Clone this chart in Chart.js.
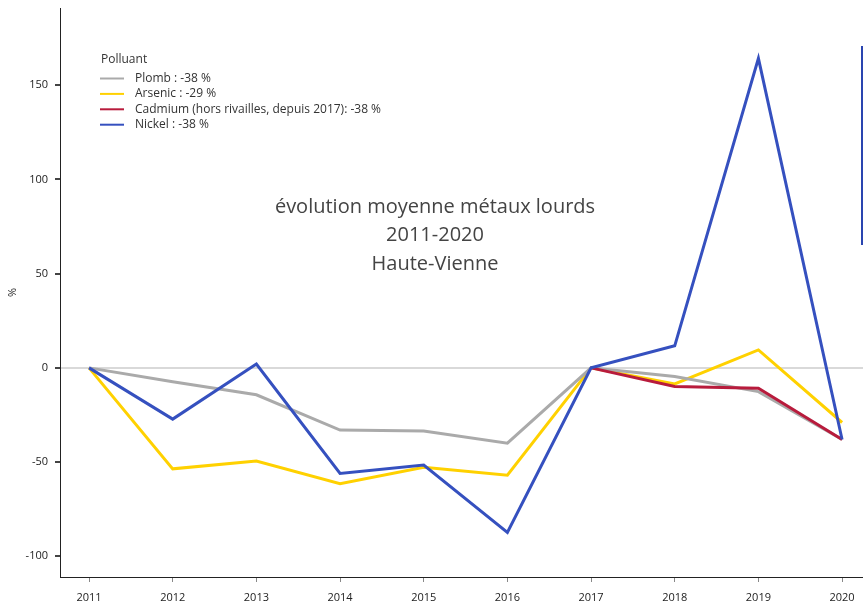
<!DOCTYPE html>
<html>
<head>
<meta charset="utf-8">
<script src="https://cdn.jsdelivr.net/npm/chart.js@4"></script>
<style>
  html, body { margin: 0; padding: 0; background: #fff; }
  #wrap { width: 863px; height: 606px; position: relative; }
</style>
</head>
<body>
<div id="wrap"><canvas id="grafico"></canvas></div>
<script>
/* donnees */
const annees = [2011, 2012, 2013, 2014, 2015, 2016, 2017, 2018, 2019, 2020];
const plomb = [0, -7.4, -14.3, -33, -33.5, -40, 0, -4.6, -12.6, -38];
const arsenic = [0, -53.6, -49.4, -61.5, -52.7, -57, 0, -8.5, 9.5, -29];
const cadmium = [null, null, null, null, null, null, 0, -9.9, -10.8, -38];
const nickel = [0, -27.2, 2, -56, -51.6, -87.4, 0, 11.7, 164.3, -38];
const yTicks = [-100, -50, 0, 50, 100, 150];
const titre = ['évolution moyenne métaux lourds', '2011-2020', 'Haute-Vienne'];
const legendeTitre = 'Polluant';

const pts = (vals) => annees.map((a, i) => ({ x: a, y: vals[i] }));

/* legende + titre dessines dans la zone du graphique */
const decor = {
    id: 'decor',
    afterDatasetsDraw(chart) {
        const ctx = chart.ctx;
        ctx.save();
        ctx.font = '12px "Open Sans"';
        ctx.fillStyle = '#333';
        ctx.textBaseline = 'middle';
        ctx.textAlign = 'left';
        ctx.fillText(legendeTitre, 101, 60);
        chart.data.datasets.forEach((ds, i) => {
            const y = 78.5 + i * 15.4;
            ctx.strokeStyle = ds.borderColor;
            ctx.lineWidth = 2;
            ctx.beginPath();
            ctx.moveTo(100, y);
            ctx.lineTo(124, y);
            ctx.stroke();
            ctx.fillStyle = '#333';
            ctx.fillText(ds.label, 135, y);
        });
        ctx.font = '20px "Open Sans"';
        ctx.fillStyle = '#444';
        ctx.textAlign = 'center';
        titre.forEach((t, i) => ctx.fillText(t, 435, 207 + i * 28.5));
        // trait bleu en bord droit
        ctx.fillStyle = '#2a45b0';
        ctx.fillRect(861, 46, 2, 199);
        ctx.restore();
    }
};

const grafico = document.getElementById('grafico').getContext('2d');

new Chart(grafico, {
    type: 'line',
    data: {
        datasets: [
            { label: 'Plomb : -38 %', data: pts(plomb), borderColor: '#aaaaaa', order: 3 },
            { label: 'Arsenic : -29 %', data: pts(arsenic), borderColor: '#ffd100', order: 4 },
            { label: 'Cadmium (hors rivailles, depuis 2017): -38 %', data: pts(cadmium), borderColor: '#b81b3c', order: 2 },
            { label: 'Nickel : -38 %', data: pts(nickel), borderColor: '#3550bf', order: 1 }
        ]
    },
    plugins: [decor],
    options: {
        responsive: true,
        maintainAspectRatio: false,
        animation: false,
        datasets: {
            line: { borderWidth: 3, pointRadius: 0, tension: 0, spanGaps: false }
        },
        layout: { padding: { top: 8, right: 0, left: 0, bottom: 0 } },
        plugins: {
            legend: { display: false },
            tooltip: { enabled: false }
        },
        scales: {
            x: {
                type: 'linear',
                min: 2010.653,
                max: 2020.25,
                border: { display: true, color: '#222', width: 1 },
                grid: { display: true, drawOnChartArea: false, tickLength: 5, tickColor: '#888' },
                afterBuildTicks: (s) => { s.ticks = annees.map(v => ({ value: v })); },
                afterFit: (s) => { s.height = 29; s.paddingLeft = 0; s.paddingRight = 0; },
                ticks: {
                    color: '#222',
                    padding: 9,
                    maxRotation: 0,
                    font: { size: 11, family: 'Open Sans' },
                    callback: (v) => String(v)
                }
            },
            y: {
                min: -111,
                max: 191,
                border: { display: true, color: '#222', width: 1 },
                grid: {
                    drawOnChartArea: true,
                    tickLength: 5,
                    tickColor: '#444',
                    color: (c) => (c.tick && c.tick.value === 0 ? '#d9d9d9' : 'rgba(0,0,0,0)'),
                    lineWidth: 2
                },
                afterBuildTicks: (s) => { s.ticks = yTicks.map(v => ({ value: v })); },
                afterFit: (s) => { s.width = 60; s.paddingTop = 0; s.paddingBottom = 0; },
                ticks: {
                    color: '#222',
                    padding: 7,
                    font: { size: 11, family: 'Open Sans' }
                },
                title: {
                    display: true,
                    text: '%',
                    color: '#222',
                    padding: { top: 6, bottom: 0 },
                    font: { size: 11, family: 'Open Sans' }
                }
            }
        }
    }
});
</script>
</body>
</html>
